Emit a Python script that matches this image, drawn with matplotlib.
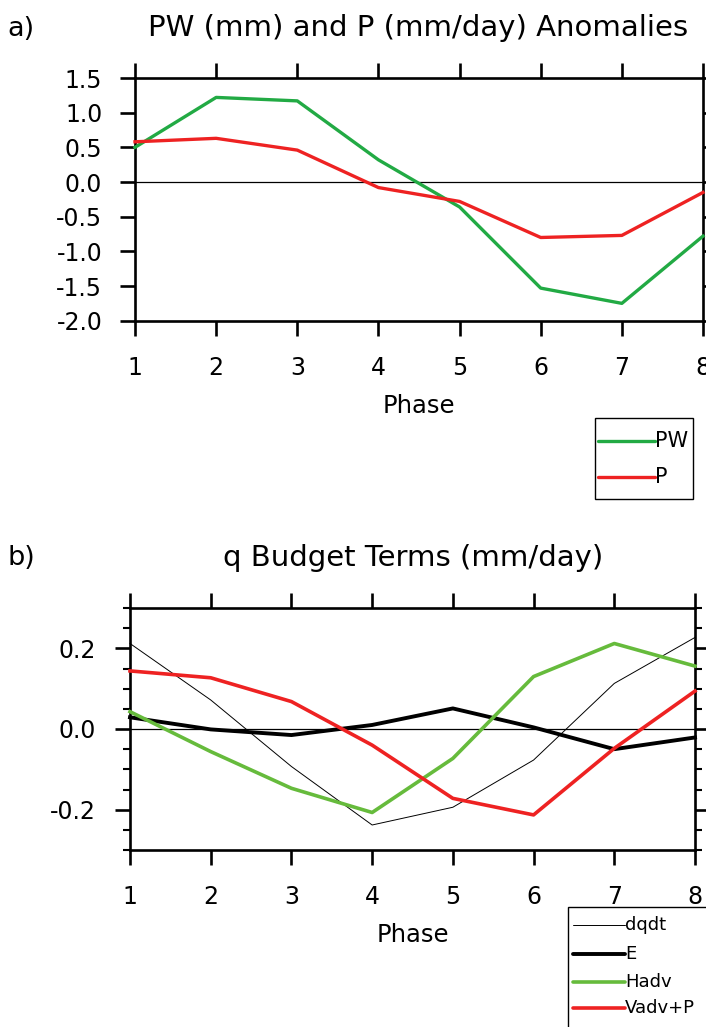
import numpy as np
import matplotlib
matplotlib.use("Agg")
import matplotlib.pyplot as plt
from matplotlib.lines import Line2D
from matplotlib.patches import Rectangle
from matplotlib.ticker import MultipleLocator, FormatStrFormatter

plt.rcParams["font.family"] = ["DejaVu Sans"]

# ---- data ----
phase = [1, 2, 3, 4, 5, 6, 7, 8]

pw = [0.50, 1.22, 1.17, 0.32, -0.36, -1.53, -1.75, -0.78]
precip = [0.58, 0.63, 0.46, -0.08, -0.28, -0.80, -0.77, -0.15]

dqdt = [0.212, 0.072, -0.093, -0.238, -0.194, -0.077, 0.113, 0.227]
evap = [0.029, -0.001, -0.015, 0.010, 0.051, 0.004, -0.050, -0.021]
hadv = [0.043, -0.056, -0.147, -0.207, -0.073, 0.130, 0.212, 0.156]
vadv_p = [0.144, 0.127, 0.068, -0.040, -0.172, -0.213, -0.048, 0.094]

GREEN_A = "#22aa44"
GREEN_B = "#66bb3c"
RED = "#ee2222"

W, H = 706, 1027


def fx(px):
    return px / W


def fy(py):
    return 1 - py / H


def style_axes(ax):
    for sp in ax.spines.values():
        sp.set_linewidth(1.9)
    ax.tick_params(which="major", direction="out", length=10.5, width=1.9,
                   labelsize=17, top=True, right=True)
    ax.tick_params(axis="x", which="major", pad=15)
    ax.tick_params(axis="y", which="major", pad=13)
    ax.tick_params(which="minor", direction="out", length=5, width=1.5,
                   top=True, right=True)
    ax.axhline(0, color="black", lw=0.9, zorder=1)
    ax.set_xlim(1, 8)
    ax.set_xticks(phase)
    ax.set_xlabel("Phase", fontsize=17.5, labelpad=10)
    ax.yaxis.set_major_formatter(FormatStrFormatter("%.1f"))


def draw_legend(fig, box, entries, line_x, text_size):
    x0, y0, x1, y1 = box
    fig.add_artist(Rectangle((fx(x0), fy(y1)), fx(x1) - fx(x0), fy(y0) - fy(y1),
                             transform=fig.transFigure, fill=False,
                             edgecolor="black", lw=1.0, clip_on=False))
    for label, color, lw, ypix in entries:
        fig.add_artist(Line2D([fx(line_x[0]), fx(line_x[1])], [fy(ypix), fy(ypix)],
                              transform=fig.transFigure, color=color, lw=lw,
                              solid_capstyle="round"))
        fig.text(fx(line_x[1]), fy(ypix), label, fontsize=text_size,
                 ha="left", va="center")


fig = plt.figure(figsize=(W / 100, H / 100), dpi=100)

# ---- panel a ----
ax1 = fig.add_axes([fx(135), fy(320.7), fx(703) - fx(135), fy(78) - fy(320.7)])
ax1.plot(phase, pw, color=GREEN_A, lw=2.4, zorder=3, clip_on=False)
ax1.plot(phase, precip, color=RED, lw=2.4, zorder=3, clip_on=False)
style_axes(ax1)
ax1.set_ylim(-2.0, 1.5)
ax1.set_yticks(np.arange(-2.0, 1.51, 0.5))
fig.text(fx(418), fy(28), "PW (mm) and P (mm/day) Anomalies", fontsize=21,
         ha="center", va="center")
fig.text(fx(7), fy(29), "a)", fontsize=19.5, ha="left", va="center")

draw_legend(fig, (595, 418, 693, 499),
            [("PW", GREEN_A, 2.4, 441), ("P", RED, 2.4, 477)],
            (598, 655), 15)

# ---- panel b ----
ax2 = fig.add_axes([fx(130), fy(850), fx(695) - fx(130), fy(608) - fy(850)])
ax2.plot(phase, dqdt, color="black", lw=0.7, zorder=3, clip_on=False)
ax2.plot(phase, evap, color="black", lw=2.8, zorder=3, clip_on=False)
ax2.plot(phase, hadv, color=GREEN_B, lw=2.6, zorder=3, clip_on=False)
ax2.plot(phase, vadv_p, color=RED, lw=2.6, zorder=3, clip_on=False)
style_axes(ax2)
ax2.set_ylim(-0.3, 0.3)
ax2.set_yticks([-0.2, 0.0, 0.2])
ax2.yaxis.set_minor_locator(MultipleLocator(0.05))
ax2.tick_params(axis="y", which="major", pad=14)
fig.text(fx(413), fy(558), "q Budget Terms (mm/day)", fontsize=21,
         ha="center", va="center")
fig.text(fx(7), fy(558), "b)", fontsize=19.5, ha="left", va="center")

draw_legend(fig, (568, 907, 720, 1040),
            [("dqdt", "black", 0.7, 925), ("E", "black", 2.8, 954),
             ("Hadv", GREEN_B, 2.6, 982), ("Vadv+P", RED, 2.6, 1008)],
            (573, 625), 13)

fig.savefig("out.png", dpi=100)
